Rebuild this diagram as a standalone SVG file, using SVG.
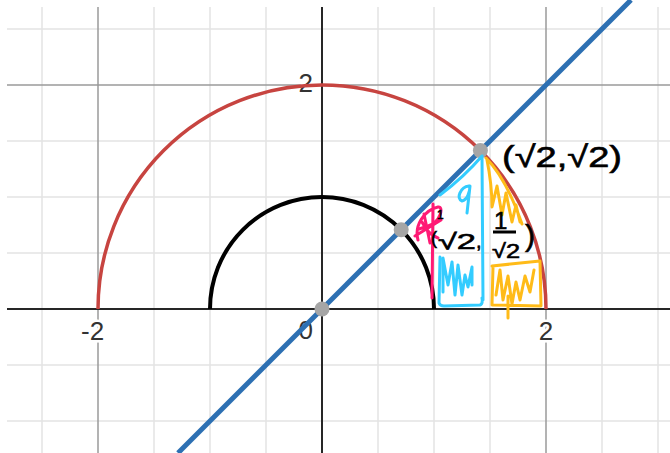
<svg xmlns="http://www.w3.org/2000/svg" width="670" height="453" viewBox="0 0 670 453">
<style>
.minor{stroke:#e4e4e4;stroke-width:1.5;fill:none}
.major{stroke:#9a9a9a;stroke-width:1.5;fill:none}
.axis{stroke:#262626;stroke-width:2;fill:none}
.lbl{font-family:"Liberation Sans",Arial,sans-serif;font-size:26px;fill:#333;stroke:#fff;stroke-width:5;paint-order:stroke;stroke-linejoin:round}
.pt{fill:#a6a6a6}
.hand{font-family:"Liberation Sans",Arial,sans-serif;fill:#000;stroke:#000;stroke-width:0.6}
.pink{stroke:#ff1a75;stroke-width:3;fill:none;stroke-linecap:round;stroke-linejoin:round}
.cyan{stroke:#33ccff;stroke-width:3;fill:none;stroke-linecap:round;stroke-linejoin:round}
.orng{stroke:#ffbb18;stroke-width:3;fill:none;stroke-linecap:round;stroke-linejoin:round}
</style>
<rect width="670" height="453" fill="#fff"/>
<g id="grid">
<path class="minor" d="M42 7V453M154 7V453M210 7V453M266 7V453M378 7V453M434 7V453M490 7V453M602 7V453M658 7V453M7 29H670M7 141H670M7 197H670M7 253H670M7 365H670M7 421H670"/>
<path class="major" d="M98 7V453M546 7V453M7 85H670"/>
<path class="axis" d="M322 7V453M7 309H670"/>
</g>
<g id="labels">
<text class="lbl" x="313" y="92" text-anchor="end">2</text>
<text class="lbl" x="81" y="340">-2</text>
<text class="lbl" x="546" y="340" text-anchor="middle">2</text>
<text class="lbl" x="313" y="339" text-anchor="end">0</text>
</g>
<g id="curves">
<path id="circle2" d="M98 309A224 224 0 0 1 546 309" stroke="#c74440" stroke-width="3.5" fill="none"/>
<path id="circle1" d="M210 309A112 112 0 0 1 434 309" stroke="#000" stroke-width="4" fill="none"/>
<path id="line" d="M178 453L631 0" stroke="#2d70b3" stroke-width="5" fill="none"/>
</g>
<g id="points">
<circle class="pt" cx="322" cy="309" r="7.5"/>
<circle class="pt" cx="401.2" cy="229.8" r="7.5"/>
<circle class="pt" cx="480.4" cy="150.6" r="7.5"/>
</g>
<g id="annotations">
<path class="cyan" d="M482 156C470 170 456 183 440 195M482 156L483 300M469 186C460 187 456 199 462 201C467 200 470 192 470 186L467 213M440 257L439 303Q440 306 444 306L480 305Q483 304 482 298M443 292L443 258L448 285L452 262L455 295L458 265L462 295L465 275L468 287L472 267L472 285"/>
<path class="orng" d="M486 158Q506 178 522 224M487 160C490 175 492 190 492 207L497 186L502 215L506 193L512 222L516 205L520 222M493 267L492 305L541 306L540 261L492 266M496 295L500 270L503 300L508 276L512 304L516 282L520 300L525 276L530 292L534 270M508 296L508 318"/>
<path class="pink" d="M433 204L432 298M418 240C414 226 424 210 438 207C444 206 441 222 428 226L419 229M424 214L430 243M415 236L441 220M422 222C426 230 432 236 438 238"/>
<text class="hand" x="502" y="167" font-size="30" textLength="120" lengthAdjust="spacingAndGlyphs">(√2,√2)</text>
<text class="hand" x="431" y="244" font-size="18">(</text>
<text class="hand" x="437" y="219" font-size="12">1</text>
<text class="hand" x="438" y="249" font-size="22" textLength="38" lengthAdjust="spacingAndGlyphs">√2</text>
<text class="hand" x="476" y="248" font-size="20">,</text>
<text class="hand" x="494" y="229" font-size="24">1</text>
<path d="M493 232H516" stroke="#000" stroke-width="3" fill="none"/>
<text class="hand" x="492" y="258" font-size="20" textLength="28" lengthAdjust="spacingAndGlyphs">√2</text>
<text class="hand" x="525" y="246" font-size="30">)</text>
</g>
</svg>
